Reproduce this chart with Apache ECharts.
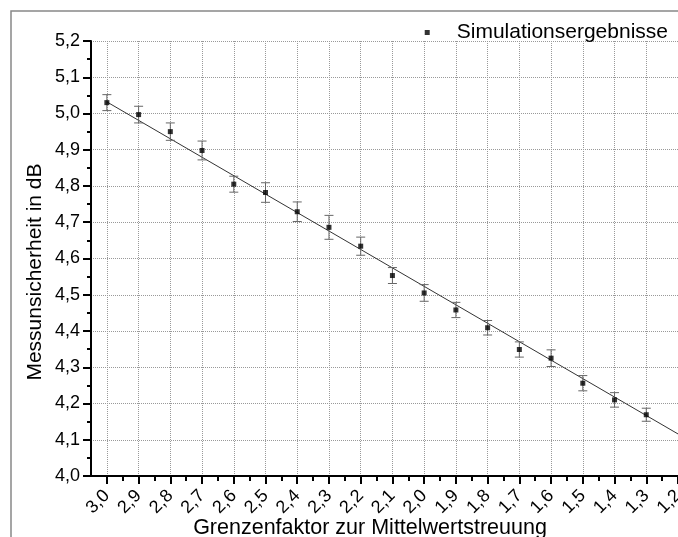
<!DOCTYPE html>
<html>
<head>
<meta charset="utf-8">
<script src="https://cdn.jsdelivr.net/npm/echarts@6/dist/echarts.min.js"></script>
<style>
html,body{margin:0;padding:0;background:#fff;}
#chart{width:678px;height:537px;}
</style>
</head>
<body>
<div id="chart"></div>
<script>
// Data
const xValues = [3.0, 2.9, 2.8, 2.7, 2.6, 2.5, 2.4, 2.3, 2.2, 2.1, 2.0, 1.9, 1.8, 1.7, 1.6, 1.5, 1.4, 1.3];
const yValues = [5.030, 4.997, 4.950, 4.898, 4.805, 4.782, 4.729, 4.686, 4.634, 4.553, 4.505, 4.458, 4.409, 4.349, 4.325, 4.256, 4.210, 4.169];
const errValues = [0.022, 0.023, 0.024, 0.026, 0.022, 0.027, 0.027, 0.033, 0.025, 0.022, 0.023, 0.021, 0.020, 0.021, 0.023, 0.021, 0.020, 0.018];
const fitLine = [[3.0, 5.032], [1.2, 4.116]];
const xMajorTicks = [3.0, 2.9, 2.8, 2.7, 2.6, 2.5, 2.4, 2.3, 2.2, 2.1, 2.0, 1.9, 1.8, 1.7, 1.6, 1.5, 1.4, 1.3, 1.2];
const xMinorTicks = [2.95, 2.85, 2.75, 2.65, 2.55, 2.45, 2.35, 2.25, 2.15, 2.05, 1.95, 1.85, 1.75, 1.65, 1.55, 1.45, 1.35, 1.25];
const seriesName = 'Simulationsergebnisse';
const xAxisTitle = 'Grenzenfaktor zur Mittelwertstreuung';
const yAxisTitle = 'Messunsicherheit in dB';

const FONT = '"Liberation Sans", Arial, sans-serif';
const fmt = v => Number(v).toFixed(1).replace('.', ',');

const chart = echarts.init(document.getElementById('chart'), null, {renderer: 'canvas'});

const pointData = xValues.map((x, i) => [x, yValues[i]]);
const errData = xValues.map((x, i) => [x, yValues[i] - errValues[i], yValues[i] + errValues[i]]);

const gridBox = {left: 91, right: 0, top: 41, bottom: 61, containLabel: false, outerBoundsMode: 'none'};

const option = {
  animation: false,
  backgroundColor: '#fff',
  textStyle: {fontFamily: FONT},
  grid: [
    Object.assign({}, gridBox),
    Object.assign({}, gridBox)
  ],
  legend: {
    data: [seriesName],
    right: 5,
    top: 17,
    itemWidth: 5,
    itemHeight: 5,
    textStyle: {fontSize: 21, color: '#000', fontFamily: FONT, padding: [0, 0, 0, 22]}
  },
  graphic: [
    {
      type: 'polyline',
      shape: {points: [[11, 540], [11, 11], [680, 11]]},
      style: {stroke: '#888', lineWidth: 1.5, fill: null},
      silent: true
    },
    {
      type: 'text',
      x: 35,
      y: 272,
      rotation: Math.PI / 2,
      style: {
        text: yAxisTitle,
        fontSize: 21,
        fontFamily: FONT,
        fill: '#000',
        align: 'center',
        verticalAlign: 'middle'
      }
    },
    {
      type: 'text',
      x: 370,
      y: 528,
      style: {
        text: xAxisTitle,
        fontSize: 21.5,
        fontFamily: FONT,
        fill: '#000',
        align: 'center',
        verticalAlign: 'middle'
      }
    }
  ],
  xAxis: [
    {
      type: 'value',
      gridIndex: 0,
      inverse: true,
      min: 1.2,
      max: 3.05,
      position: 'bottom',
      axisLine: {show: true, onZero: false, lineStyle: {color: '#000', width: 2}},
      axisTick: {show: true, customValues: xMajorTicks, length: 8, lineStyle: {color: '#000', width: 2}},
      axisLabel: {
        show: true,
        customValues: xMajorTicks,
        rotate: 45,
        margin: 17,
        fontSize: 18,
        color: '#000',
        fontFamily: FONT,
        hideOverlap: false,
        formatter: fmt
      },
      splitLine: {show: true, lineStyle: {type: 'dotted', color: '#999', width: 1}}
    },
    {
      type: 'value',
      gridIndex: 1,
      inverse: true,
      min: 1.2,
      max: 3.05,
      position: 'bottom',
      axisLine: {show: false, onZero: false},
      axisTick: {show: true, customValues: xMinorTicks, length: 5, lineStyle: {color: '#000', width: 2}},
      axisLabel: {show: false},
      splitLine: {show: false}
    }
  ],
  yAxis: [
    {
      type: 'value',
      gridIndex: 0,
      min: 4.0,
      max: 5.2,
      interval: 0.1,
      axisLine: {show: true, onZero: false, lineStyle: {color: '#000', width: 2}},
      axisTick: {show: true, length: 8, lineStyle: {color: '#000', width: 2}},
      minorTick: {show: true, splitNumber: 2, length: 4, lineStyle: {color: '#000', width: 2}},
      axisLabel: {margin: 11, fontSize: 18, color: '#000', fontFamily: FONT, formatter: fmt},
      splitLine: {show: true, lineStyle: {type: 'dotted', color: '#999', width: 1}}
    },
    {
      type: 'value',
      gridIndex: 1,
      min: 4.0,
      max: 5.2,
      show: false
    }
  ],
  series: [
    {
      name: 'fit',
      type: 'line',
      data: fitLine,
      symbol: 'none',
      lineStyle: {color: '#333', width: 1},
      silent: true,
      z: 2
    },
    {
      name: 'err',
      type: 'custom',
      data: errData,
      encode: {x: 0, y: [1, 2]},
      renderItem: function (params, api) {
        const x = api.value(0);
        const lo = api.coord([x, api.value(1)]);
        const hi = api.coord([x, api.value(2)]);
        const w = 4.5;
        const st = {stroke: '#666', lineWidth: 1};
        return {
          type: 'group',
          children: [
            {type: 'line', shape: {x1: hi[0], y1: hi[1], x2: lo[0], y2: lo[1]}, style: st},
            {type: 'line', shape: {x1: hi[0] - w, y1: hi[1], x2: hi[0] + w, y2: hi[1]}, style: st},
            {type: 'line', shape: {x1: lo[0] - w, y1: lo[1], x2: lo[0] + w, y2: lo[1]}, style: st}
          ]
        };
      },
      silent: true,
      z: 3
    },
    {
      name: seriesName,
      type: 'scatter',
      data: pointData,
      symbol: 'rect',
      symbolSize: 5,
      itemStyle: {color: '#000'},
      z: 4
    }
  ]
};
chart.setOption(option);
</script>
</body>
</html>
